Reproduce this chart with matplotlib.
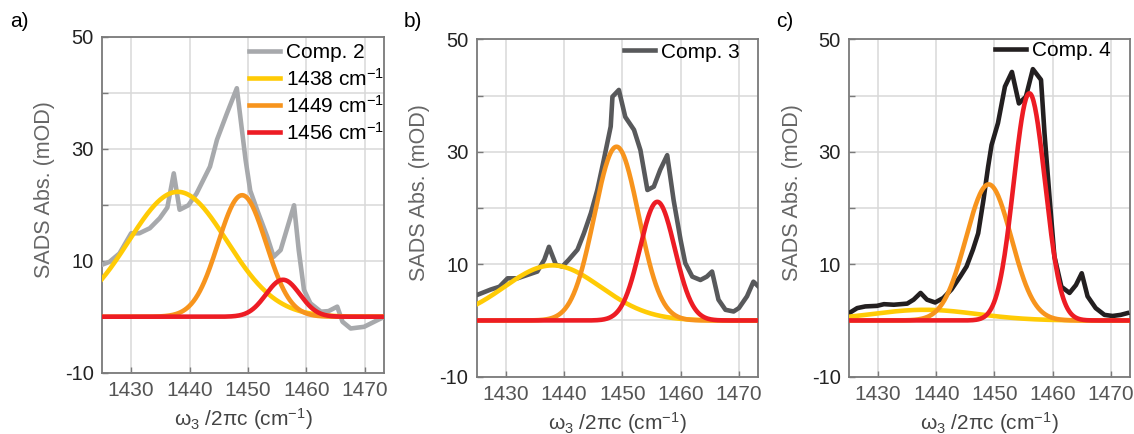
import numpy as np
import matplotlib
matplotlib.use("Agg")
import matplotlib.pyplot as plt

plt.rcParams['font.family'] = ['Liberation Sans', 'DejaVu Sans']
plt.rcParams['mathtext.fontset'] = 'custom'
plt.rcParams['mathtext.rm'] = 'Liberation Sans'
plt.rcParams['mathtext.it'] = 'Liberation Sans:italic'

# measured SADS spectra (cm-1, mOD)
comp2_x = [1424.8, 1426.3, 1428.0, 1430.0, 1431.4, 1433.2, 1434.9, 1436.2, 1437.3, 1438.3,
           1439.8, 1441.2, 1443.5, 1444.7, 1446.4, 1448.1, 1449.6, 1450.4, 1451.6, 1453.3,
           1454.4, 1455.6, 1457.9, 1458.7, 1459.6, 1460.7, 1462.5, 1463.8, 1465.3, 1466.2,
           1467.6, 1469.9, 1472.2, 1473.4]
comp2_y = [9.2, 9.8, 11.3, 14.9, 14.9, 15.8, 17.6, 19.5, 25.6, 19.1,
           19.9, 22.0, 26.8, 31.6, 36.3, 40.8, 28.0, 22.5, 19.0, 14.3,
           10.7, 11.9, 19.9, 11.9, 4.8, 2.4, 0.9, 1.0, 1.8, -0.9,
           -2.1, -1.8, -0.6, 0.0]

comp3_x = [1425.2, 1427.4, 1428.9, 1430.3, 1432.0, 1433.7, 1435.4, 1436.6, 1437.4, 1438.6,
           1439.7, 1440.8, 1442.3, 1443.4, 1444.6, 1445.7, 1446.8, 1448.0, 1448.3, 1449.4,
           1450.5, 1452.0, 1453.1, 1454.3, 1455.4, 1456.5, 1457.7, 1458.8, 1460.0, 1460.8,
           1462.0, 1463.4, 1464.5, 1465.4, 1466.5, 1467.7, 1469.1, 1470.0, 1471.4, 1472.5,
           1473.4]
comp3_y = [4.6, 5.5, 6.0, 7.5, 7.5, 8.1, 8.7, 10.8, 13.1, 9.9,
           9.6, 10.8, 12.6, 15.5, 19.1, 23.2, 28.5, 34.5, 39.8, 41.0,
           36.2, 33.9, 30.3, 23.2, 23.8, 26.8, 29.4, 21.4, 14.3, 10.2,
           7.8, 7.2, 7.8, 8.7, 3.7, 1.9, 1.6, 2.2, 4.3, 6.9,
           6.0]

comp4_x = [1425.0, 1426.4, 1427.8, 1429.8, 1431.0, 1432.7, 1435.0, 1436.1, 1437.3, 1438.4,
           1439.8, 1441.2, 1442.6, 1444.1, 1445.2, 1446.3, 1447.2, 1448.1, 1448.9, 1449.5,
           1450.6, 1451.8, 1453.0, 1454.2, 1455.4, 1456.6, 1458.0, 1458.6, 1459.5, 1460.3,
           1461.5, 1462.9, 1464.0, 1465.0, 1466.0, 1467.4, 1468.9, 1470.3, 1471.7, 1472.8]
comp4_y = [1.3, 2.2, 2.5, 2.6, 2.9, 2.8, 3.0, 3.7, 4.9, 3.7,
           3.2, 4.0, 5.5, 7.8, 9.6, 12.6, 15.5, 21.4, 27.3, 31.2,
           35.1, 41.6, 44.2, 38.6, 39.8, 44.7, 42.8, 33.3, 21.4, 11.4,
           6.0, 4.9, 6.3, 8.4, 4.3, 2.2, 1.0, 0.8, 1.0, 1.3]

# gaussian fit components: centres, amplitudes and widths per panel
centers = [1438, 1449, 1456]
amps_a = [22.3, 21.7, 6.6]
amps_b = [9.8, 30.9, 21.1]
amps_c = [1.9, 24.2, 40.4]
sigma_a = [8.4, 4.1, 2.9]
sigma_b = [8.3, 3.8, 3.0]
sigma_c = [9.0, 3.9, 2.7]

comp_labels = ['Comp. 2', 'Comp. 3', 'Comp. 4']
comp_colors = ['#A7A9AC', '#58595B', '#231F20']
fit_colors = ['#FFCB05', '#F7941D', '#ED1C24']
panel_tags = ['a)', 'b)', 'c)']

fig = plt.figure(figsize=(11.34, 4.34), dpi=100)

rects = [[0.0899, 0.1412, 0.2487, 0.7742],
         [0.4204, 0.1320, 0.2481, 0.7774],
         [0.7487, 0.1320, 0.2478, 0.7774]]
leg_pos = [(0.52, 0.98), (0.522, 0.99), (0.518, 0.995)]
tag_x = [0.009, 0.356, 0.684]

data = [(comp2_x, comp2_y, amps_a, sigma_a),
        (comp3_x, comp3_y, amps_b, sigma_b),
        (comp4_x, comp4_y, amps_c, sigma_c)]

xs = np.linspace(1425, 1473.5, 400)

for i, (cx, cy, amps, sigmas) in enumerate(data):
    ax = fig.add_axes(rects[i])
    ax.plot(cx, cy, color=comp_colors[i], lw=3.3, label=comp_labels[i], zorder=3)
    for k in range(3):
        g = amps[k] * np.exp(-(xs - centers[k]) ** 2 / (2 * sigmas[k] ** 2))
        lab = str(centers[k]) + ' cm$^{-1}$' if i == 0 else None
        ax.plot(xs, g, color=fit_colors[k], lw=3.3, label=lab, zorder=4 + k)

    ax.set_xlim(1425, 1473.3)
    ax.set_ylim(-10, 50)
    ax.set_xticks([1430, 1440, 1450, 1460, 1470])
    ax.set_yticks(range(-10, 51, 10))
    ax.set_yticklabels(['-10', '', '10', '', '30', '', '50'])
    ax.grid(True, color='#D9D9D9', lw=1.1, zorder=0)
    ax.set_axisbelow(True)
    for s in ax.spines.values():
        s.set_color('#7A7A7A')
        s.set_linewidth(1.3)
    ax.tick_params(direction='in', length=4, width=1, color='#7A7A7A')
    ax.tick_params(axis='y', labelsize=14.5, labelcolor='#222222', pad=6)
    ax.tick_params(axis='x', labelsize=15, labelcolor='#555555', pad=6)

    ax.set_xlabel('ω$_3$ /2πc (cm$^{-1}$)', fontsize=15, color='#444444', labelpad=4)
    ax.set_ylabel('SADS Abs. (mOD)', fontsize=15.5, color='#666666')
    ax.yaxis.set_label_coords(-0.165, 0.545)

    ax.legend(loc='upper left', bbox_to_anchor=leg_pos[i], frameon=False,
              fontsize=15, handlelength=1.5, handletextpad=0.3,
              labelspacing=0.25, borderpad=0, borderaxespad=0)

    fig.text(tag_x[i], 0.95, panel_tags[i], fontsize=15, va='center', ha='left')

fig.savefig('out.png', dpi=100)
